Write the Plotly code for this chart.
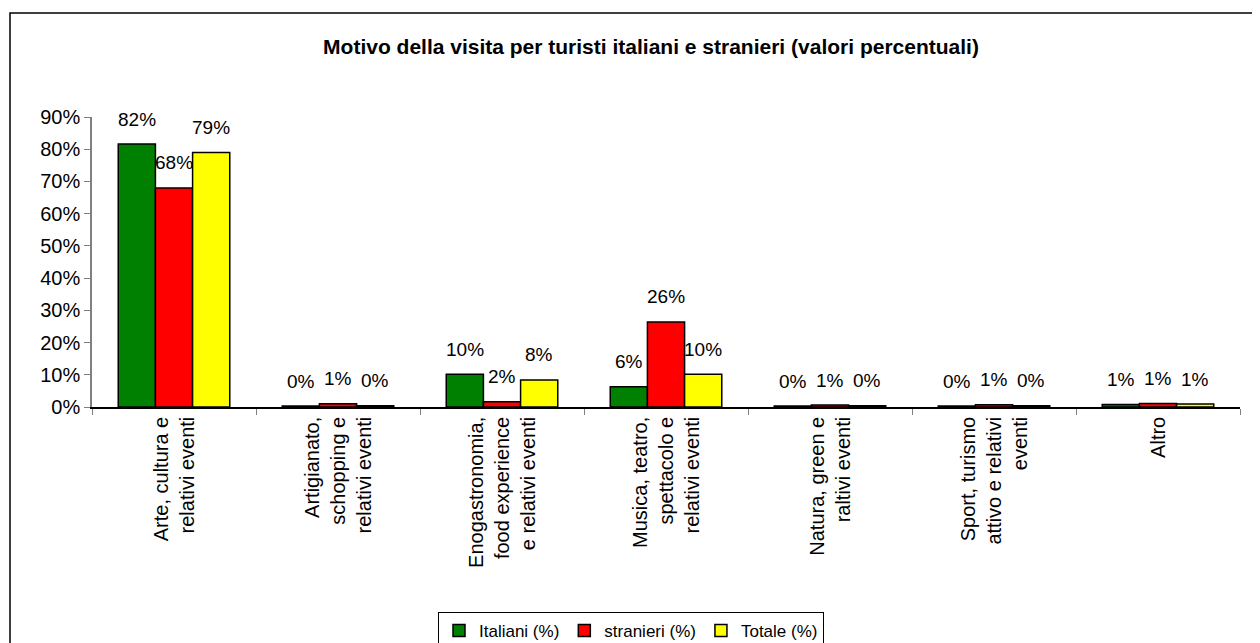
import plotly.graph_objects as go

categories = [
    "Arte, cultura e<br>relativi eventi",
    "Artigianato,<br>schopping e<br>relativi eventi",
    "Enogastronomia,<br>food experience<br>e relativi eventi",
    "Musica, teatro,<br>spettacolo e<br>relativi eventi",
    "Natura, green e<br>raltivi eventi",
    "Sport, turismo<br>attivo e relativi<br>eventi",
    "Altro",
]
italiani = [81.6, 0.3, 10.2, 6.3, 0.3, 0.3, 0.8]
stranieri = [68.0, 1.0, 1.6, 26.4, 0.6, 0.7, 1.1]
totale = [79.0, 0.4, 8.4, 10.2, 0.4, 0.4, 0.9]
series_names = ["Italiani (%)", "stranieri (%)", "Totale (%)"]
series_colors = ["#008000", "#FF0000", "#FFFF00"]
y_ticks = [0, 10, 20, 30, 40, 50, 60, 70, 80, 90]

FONT = "Liberation Sans, Arial, sans-serif"
OFF = 8  # default page body margin
W, H = 1252, 635
L, R, T, B = 84, 20, 109, 236
pw = W - L - R
ph = H - T - B

fig = go.Figure()
series = [italiani, stranieri, totale]
for name, vals, col in zip(series_names, series, series_colors):
    fig.add_trace(go.Bar(
        x=categories, y=vals, name=name,
        marker=dict(color=col, line=dict(color="black", width=1.5)),
    ))

# data labels
bargap = 0.32
cat_px = pw / len(categories)
bar_px = cat_px * (1 - bargap) / 3
for k, vals in enumerate(series):
    for c, v in zip(categories, vals):
        fig.add_annotation(
            x=c, y=v, xref="x", yref="y", text=f"{round(v):.0f}%",
            showarrow=False, xshift=(k - 1) * bar_px, yshift=25,
            font=dict(family=FONT, size=19, color="black"),
        )

def px_x(x):
    return (x - OFF - L) / pw

def px_y(y):
    return (H - B - (y - OFF)) / ph

fig.add_shape(
    type="path", xref="paper", yref="paper",
    path=f"M {px_x(10)},{px_y(680)} L {px_x(10)},{px_y(13)} L {px_x(1290)},{px_y(13)}",
    line=dict(color="black", width=1.5),
)

fig.update_layout(
    width=W, height=H, autosize=False,
    margin=dict(l=L, r=R, t=T, b=B),
    paper_bgcolor="white", plot_bgcolor="white",
    font=dict(family=FONT, size=19, color="black"),
    barmode="group", bargap=bargap, bargroupgap=0,
    title=dict(
        text="<b>Motivo della visita per turisti italiani e stranieri (valori percentuali)</b>",
        x=(651 - OFF) / W, xref="container", xanchor="center",
        y=1 - (47 - OFF) / H, yref="container", yanchor="middle",
        font=dict(family=FONT, size=21, color="black"),
    ),
    legend=dict(
        orientation="h", xref="container", yref="container",
        x=(631 - OFF) / W, xanchor="center", y=1 - (612 - OFF) / H, yanchor="top",
        bordercolor="black", borderwidth=1,
        font=dict(family=FONT, size=17, color="black"),
        itemwidth=30, traceorder="normal",
    ),
    showlegend=True,
)
fig.update_xaxes(
    type="category", tickson="boundaries", ticks="outside", ticklen=6,
    tickcolor="#808080", showline=True, linecolor="black", linewidth=1.5,
    tickangle=-90, showgrid=False, tickfont=dict(family=FONT, size=20),
)
fig.update_yaxes(
    range=[0, 90], tickvals=y_ticks, ticktext=[f"{t}%" for t in y_ticks],
    ticks="outside", ticklen=6, tickcolor="#808080", showline=True,
    linecolor="#808080", linewidth=1.5, showgrid=False, zeroline=False,
    tickfont=dict(family=FONT, size=20),
)

fig.write_html("out.html")
